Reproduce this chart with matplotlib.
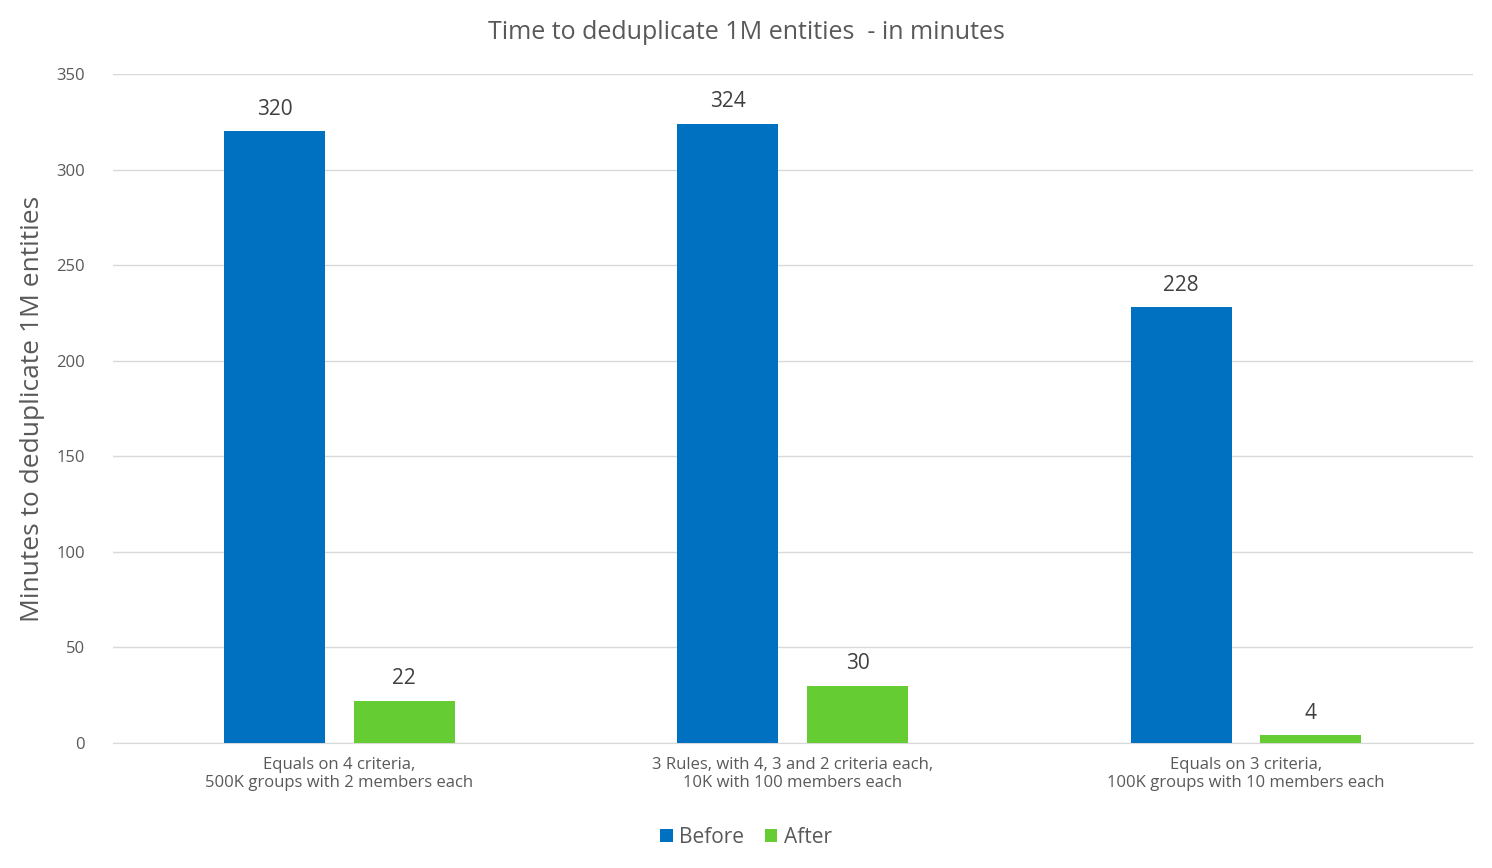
import matplotlib
matplotlib.use("Agg")
import matplotlib.pyplot as plt
import numpy as np

plt.rcParams["font.family"] = "Open Sans"

categories = ["Equals on 4 criteria,\n500K groups with 2 members each",
              "3 Rules, with 4, 3 and 2 criteria each,\n10K with 100 members each",
              "Equals on 3 criteria,\n100K groups with 10 members each"]
before = [320, 324, 228]
after = [22, 30, 4]
yticks = [0, 50, 100, 150, 200, 250, 300, 350]

fig = plt.figure(figsize=(14.92, 8.68), dpi=100)
ax = fig.add_axes([0.0757, 0.144, 0.9113, 0.7707])
x = np.arange(len(categories))
w = 0.223
off = 0.143
b1 = ax.bar(x - off, before, w, color="#0070C0", label="Before", zorder=3)
b2 = ax.bar(x + off, after, w, color="#66CC33", label="After", zorder=3)
for bars, vals in ((b1, before), (b2, after)):
    for r, v in zip(bars, vals):
        ax.text(r.get_x() + r.get_width()/2, v + 6, str(v), ha="center", va="bottom",
                fontsize=15, color="#404040")
ax.set_xlim(-0.5, 2.5)
ax.set_ylim(0, 350)
ax.set_yticks(yticks)
ax.set_xticks(x)
ax.set_xticklabels(categories, fontsize=12, color="#595959")
ax.tick_params(axis="y", labelsize=12, labelcolor="#595959", length=0, pad=20)
ax.tick_params(axis="x", length=0, pad=10)
ax.grid(axis="y", color="#D9D9D9", linewidth=1, zorder=0)
for s in ("top", "right", "left"):
    ax.spines[s].set_visible(False)
ax.spines["bottom"].set_color("#D9D9D9")
ax.set_ylabel("Minutes to deduplicate 1M entities", fontsize=19, color="#595959", labelpad=8)
fig.text(0.5, 0.963, "Time to deduplicate 1M entities  - in minutes", ha="center", va="center",
         fontsize=18, color="#595959")
fig.legend(handles=[b1, b2], loc="center", bbox_to_anchor=(0.5, 0.035), ncol=2, frameon=False,
           fontsize=15, handlelength=0.6, handleheight=0.6, columnspacing=1.0, handletextpad=0.3,
           labelcolor="#595959")
fig.savefig("out.png", dpi=100)
